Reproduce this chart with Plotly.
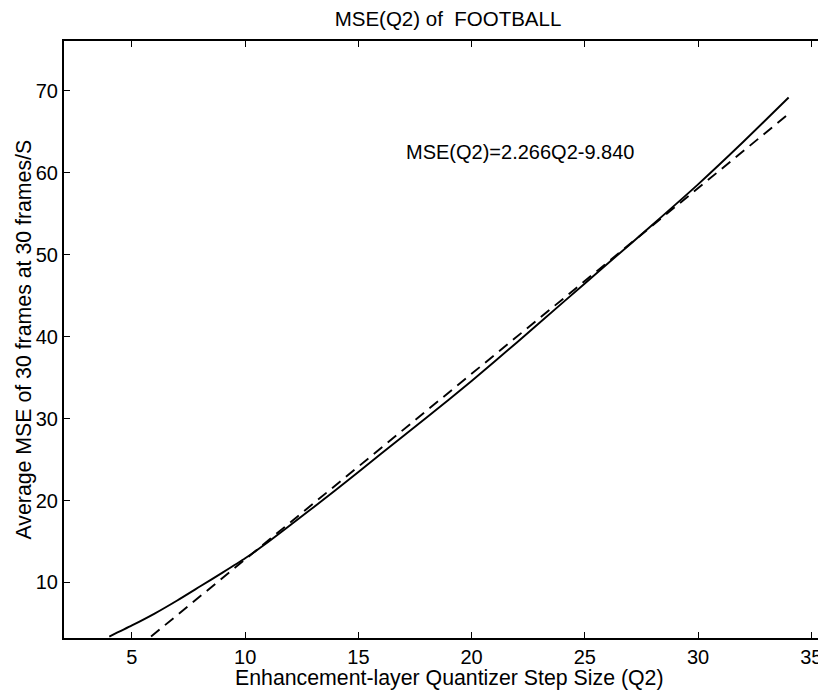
import plotly.graph_objects as go

# Measured curve (solid)
q_meas = [4, 5, 6, 7, 8, 9, 10, 11, 12, 14, 16, 18, 20, 22, 24, 26, 28, 30, 32, 34]
mse_meas = [3.4, 4.75, 6.2, 7.8, 9.5, 11.2, 12.95, 14.9, 17.0, 21.3, 25.7, 30.1,
            34.6, 39.3, 44.1, 48.9, 53.7, 58.6, 63.8, 69.2]

# Linear fit (dashed): MSE(Q2)=2.266Q2-9.840
q_fit = [4, 34]
mse_fit = [-0.78, 67.2]

x_ticks = [5, 10, 15, 20, 25, 30, 35]
y_ticks = [10, 20, 30, 40, 50, 60, 70]

FONT = "Liberation Sans, Arial, sans-serif"

# page is drawn with an 8px body margin; size the figure to the visible window
W, H = 818, 683
L, T, B, R = 56, 33, 53, 0

fig = go.Figure()
fig.add_trace(go.Scatter(x=q_meas, y=mse_meas, mode="lines",
                         line=dict(color="black", width=1.9, shape="spline", smoothing=0.6),
                         showlegend=False))
fig.add_trace(go.Scatter(x=q_fit, y=mse_fit, mode="lines",
                         line=dict(color="black", width=1.9, dash="11px,7px"),
                         showlegend=False))

fig.add_annotation(x=17.0, y=62.6, xref="x", yref="y", text="MSE(Q2)=2.266Q2-9.840",
                   showarrow=False, xanchor="left", yanchor="middle",
                   font=dict(family=FONT, size=20, color="black"))

# axis titles
fig.add_annotation(x=0.5, y=0, xref="paper", yref="paper", yshift=-(670 - (H - B)),
                   xshift=4,
                   text="Enhancement-layer Quantizer Step Size (Q2)", showarrow=False,
                   xanchor="center", yanchor="middle",
                   font=dict(family=FONT, size=21.3, color="black"))
fig.add_annotation(x=0, y=0.5, xref="paper", yref="paper", xshift=-(L - 15),
                   text="Average MSE of 30 frames at 30 frames/S", showarrow=False,
                   textangle=-90, xanchor="center", yanchor="middle",
                   font=dict(family=FONT, size=21.3, color="black"))

fig.update_layout(
    width=W, height=H,
    margin=dict(l=L, r=R, t=T, b=B, autoexpand=False),
    paper_bgcolor="white", plot_bgcolor="white",
    font=dict(family=FONT, color="black"),
    title=dict(text="MSE(Q2) of&nbsp;&nbsp;FOOTBALL", x=(L + W) / 2 / W + 3 / W, xanchor="center",
               y=1 - 10.5 / H, yanchor="middle", yref="container",
               font=dict(family=FONT, size=20.5, color="black")),
)
fig.update_xaxes(range=[2, 35.65], tickvals=x_ticks, ticks="inside", ticklen=6,
                 tickwidth=1.2, tickcolor="black", showline=True, linecolor="black",
                 linewidth=2, mirror="ticks", showgrid=False, zeroline=False,
                 automargin=False,
                 tickfont=dict(size=20, family=FONT))
fig.update_yaxes(range=[3.22, 76.1], tickvals=y_ticks, ticks="inside", ticklen=6,
                 tickwidth=1.2, tickcolor="black", showline=True, linecolor="black",
                 linewidth=2, mirror=False, showgrid=False, zeroline=False,
                 automargin=False,
                 tickfont=dict(size=20, family=FONT), ticklabelstandoff=0)

fig.write_html("out.html")
